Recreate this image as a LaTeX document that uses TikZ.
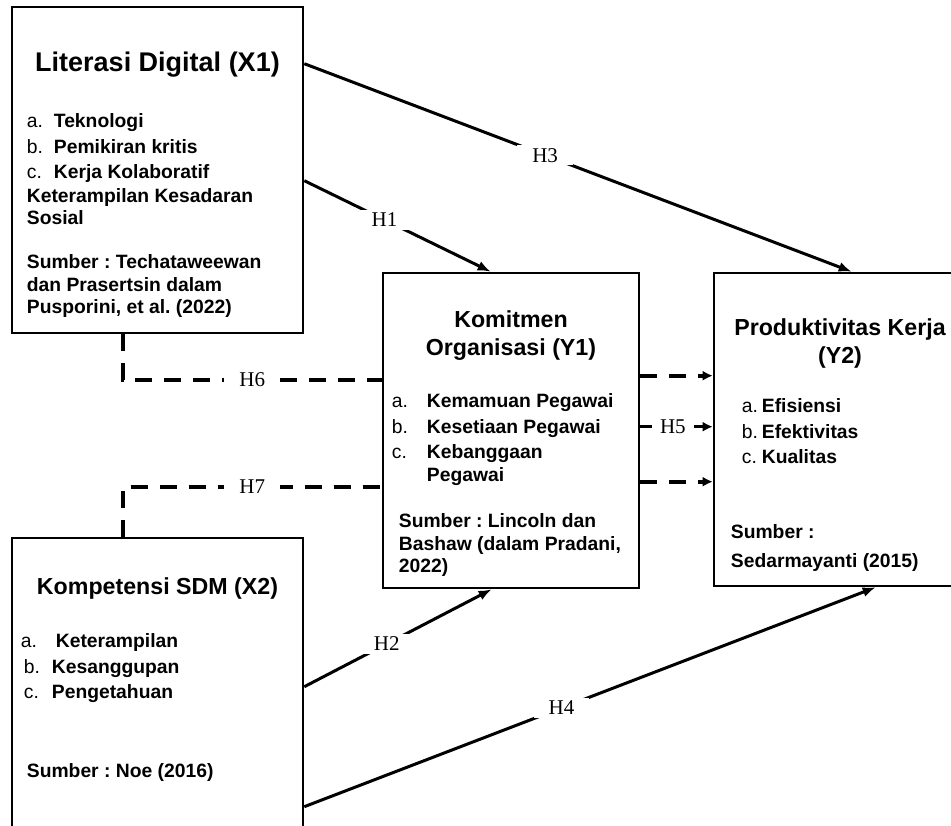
\documentclass[tikz,border=0pt]{standalone}
\usepackage{fontspec}
\setmainfont{Liberation Sans}
\newfontfamily\hfont{Liberation Serif}
\usetikzlibrary{positioning,arrows.meta}
\frenchspacing

\begin{document}
\begin{tikzpicture}[x=1pt, y=-1pt,
        varnode/.style={rectangle, draw, line width=2.6pt, inner sep=0pt},
        titlenode/.style={inner sep=0pt, align=center, font=\bfseries\fontsize{23.2}{28.5}\selectfont},
        itemnode/.style={inner sep=0pt, align=left, font=\bfseries\fontsize{19.3}{25.5}\selectfont},
        sourcenode/.style={inner sep=0pt, align=left, font=\bfseries\fontsize{19.3}{22.5}\selectfont},
        hnode/.style={fill=white, inner xsep=15pt, inner ysep=3pt, font=\hfont\fontsize{21}{24}\selectfont},
        solidarrow/.style={line width=3pt, -{Latex[length=13pt,width=10pt]}},
        dashedarrow/.style={line width=4pt, dash pattern=on 17pt off 12pt, -{Latex[length=10pt,width=10pt]}},
        dashedline/.style={line width=4pt, dash pattern=on 17pt off 12pt},
        ]
        \useasboundingbox (0,0) rectangle (951,826);

        %Nodes
        \node[varnode, minimum width=291pt, minimum height=326pt] (x1) at (157.5,170) {};
        \node[varnode, minimum width=256pt, minimum height=315pt] (y1) at (511,430.5) {};
        \node[varnode, minimum width=252pt, minimum height=313pt] (y2) at (840,429.5) {};
        \node[varnode, minimum width=291pt, minimum height=332pt] (x2) at (157.5,704) {};

        \node[titlenode, font=\bfseries\fontsize{27}{32}\selectfont] (x1title) [below=46pt of x1.north] {Literasi Digital (X1)};
        \node[itemnode] (x1items) [below right=108pt and 16pt of x1.north west] {\makebox[27pt][l]{\mdseries a.}Teknologi\\
            \makebox[27pt][l]{\mdseries b.}Pemikiran kritis\\
            \makebox[27pt][l]{\mdseries c.}Kerja Kolaboratif\\[-2pt]
            Keterampilan Kesadaran\\[-3pt]
            Sosial};
        \node[sourcenode] (x1source) [below right=249pt and 16pt of x1.north west] {Sumber : Techataweewan\\dan Prasertsin dalam\\Pusporini, et al. (2022)};

        \node[titlenode] (y1title) [below=38.4pt of y1.north] {Komitmen\\Organisasi (Y1)};
        \node[itemnode] (y1items) [below right=122pt and 10pt of y1.north west] {\makebox[35pt][l]{\mdseries a.}Kemamuan Pegawai\\
            \makebox[35pt][l]{\mdseries b.}Kesetiaan Pegawai\\
            \makebox[35pt][l]{\mdseries c.}Kebanggaan\\[-3pt]
            \hspace*{35pt}Pegawai};
        \node[sourcenode] (y1source) [below right=242pt and 17pt of y1.north west] {Sumber : Lincoln dan\\Bashaw (dalam Pradani,\\2022)};

        \node[titlenode] (y2title) [below=46.4pt of y2.north] {Produktivitas Kerja\\(Y2)};
        \node[itemnode] (y2items) [below right=127pt and 29pt of y2.north west] {\makebox[20pt][l]{\mdseries a.}Efisiensi\\
            \makebox[20pt][l]{\mdseries b.}Efektivitas\\
            \makebox[20pt][l]{\mdseries c.}Kualitas};
        \node[sourcenode, font=\bfseries\fontsize{19.3}{29}\selectfont] (y2source) [below right=253pt and 18pt of y2.north west] {Sumber :\\Sedarmayanti (2015)};

        \node[titlenode] (x2title) [below=40.4pt of x2.north] {Kompetensi SDM (X2)};
        \node[itemnode] (x2items) [below right=97pt and 10pt of x2.north west] {\makebox[35pt][l]{\mdseries a.}Keterampilan\\
            \hspace*{3pt}\makebox[28pt][l]{\mdseries b.}Kesanggupan\\
            \hspace*{3pt}\makebox[28pt][l]{\mdseries c.}Pengetahuan};
        \node[sourcenode] (x2source) [below right=227pt and 16pt of x2.north west] {Sumber : Noe (2016)};

        %Connections
        \draw[solidarrow] ([yshift=-58pt]x1.north east) -- node[hnode, pos=0.44] {H3} ([xshift=139pt]y2.north west);
        \draw[solidarrow] ([yshift=-175pt]x1.north east) -- node[hnode, pos=0.43] {H1} ([xshift=109pt]y1.north west);
        \draw[solidarrow] ([yshift=-150pt]x2.north east) -- node[hnode, pos=0.44] {H2} ([xshift=110pt]y1.south west);
        \draw[solidarrow] ([yshift=-270pt]x2.north east) -- node[hnode, pos=0.45] {H4} ([xshift=163pt]y2.south west);

        \draw[dashedline] ([xshift=112pt]x1.south west) |- node[hnode, pos=0.75] {H6} ([yshift=-108pt]y1.north west);
        \draw[dashedline] ([xshift=112pt]x2.north west) |- node[hnode, pos=0.75] {H7} ([yshift=-215pt]y1.north west);

        \draw[dashedarrow] ([yshift=-104pt]y1.north east) -- ([yshift=-104pt]y2.north west);
        \draw[solidarrow, -{Latex[length=10pt,width=10pt]}] ([yshift=-155pt]y1.north east) -- node[hnode, inner xsep=8pt, pos=0.45] {H5} ([yshift=-155pt]y2.north west);
        \draw[dashedarrow] ([yshift=-210pt]y1.north east) -- ([yshift=-210pt]y2.north west);
    \end{tikzpicture}
\end{document}
